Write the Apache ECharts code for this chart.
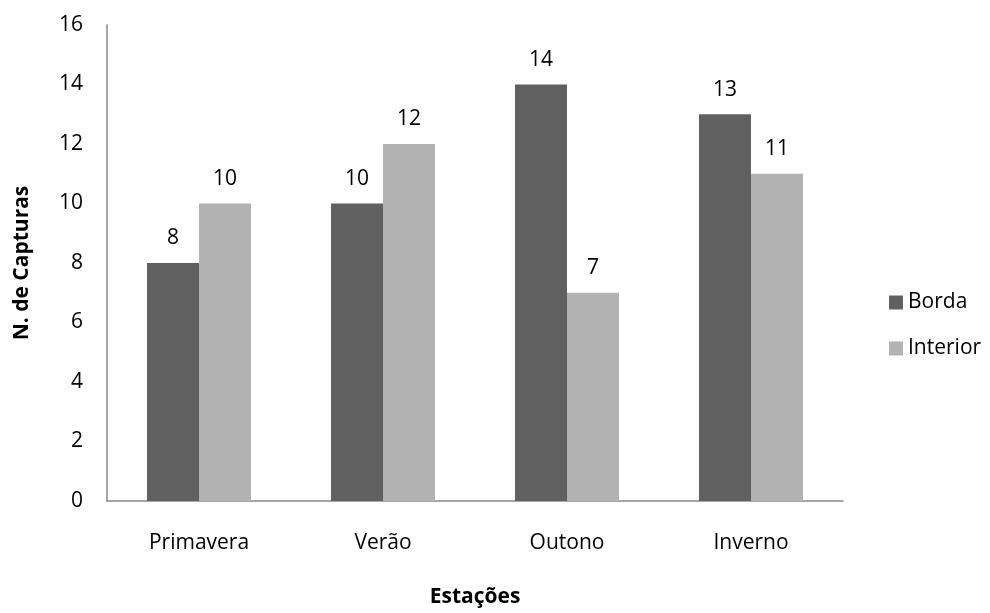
<!DOCTYPE html>
<html><head><meta charset="utf-8">
<script src="https://cdn.jsdelivr.net/npm/echarts@6/dist/echarts.min.js"></script>
<style>html,body{margin:0;padding:0;background:#fff}#c{width:990px;height:613px}</style>
</head><body><div id="c"></div>
<script>
var categories = ['Primavera', 'Verão', 'Outono', 'Inverno'];
var borda = [8, 10, 14, 13];
var interior = [10, 12, 7, 11];
var yTicks = [0, 2, 4, 6, 8, 10, 12, 14, 16];

var FONT = '"Open Sans", sans-serif';
var FS = 21;
var chart = echarts.init(document.getElementById('c'));
chart.setOption({
  animation: false,
  textStyle: { fontFamily: FONT },
  grid: { left: 107, right: 147, top: 25, bottom: 108 },
  legend: {
    orient: 'vertical', left: 884, top: 287, itemGap: 25,
    itemWidth: 14, itemHeight: 14, icon: 'rect',
    textStyle: { fontSize: FS, color: '#000', fontFamily: FONT },
    data: ['Borda', 'Interior']
  },
  xAxis: {
    type: 'category', data: categories,
    name: 'Estações', nameLocation: 'middle', nameGap: 86,
    nameTextStyle: { fontSize: FS, fontWeight: 'bold', color: '#000', fontFamily: FONT },
    axisLine: { lineStyle: { color: '#888', width: 1.5 } },
    axisTick: { show: false },
    axisLabel: { fontSize: FS, color: '#000', margin: 32, fontFamily: FONT }
  },
  yAxis: {
    type: 'value', min: yTicks[0], max: yTicks[yTicks.length - 1], interval: 2,
    name: 'N. de Capturas', nameLocation: 'middle', nameGap: 74, nameRotate: 90,
    nameTextStyle: { fontSize: FS, fontWeight: 'bold', color: '#000', fontFamily: FONT },
    axisLine: { show: true, lineStyle: { color: '#888', width: 1.5 } },
    axisTick: { show: false },
    splitLine: { show: false },
    axisLabel: { fontSize: FS, color: '#000', margin: 24, fontFamily: FONT }
  },
  series: [
    {
      name: 'Borda', type: 'bar', data: borda, barWidth: 52, barGap: '0%',
      itemStyle: { color: '#606060' },
      label: { show: true, position: 'top', distance: 14, fontSize: FS, color: '#000', fontFamily: FONT }
    },
    {
      name: 'Interior', type: 'bar', data: interior, barWidth: 52,
      itemStyle: { color: '#b2b2b2' },
      label: { show: true, position: 'top', distance: 14, fontSize: FS, color: '#000', fontFamily: FONT }
    }
  ]
});
</script></body></html>
